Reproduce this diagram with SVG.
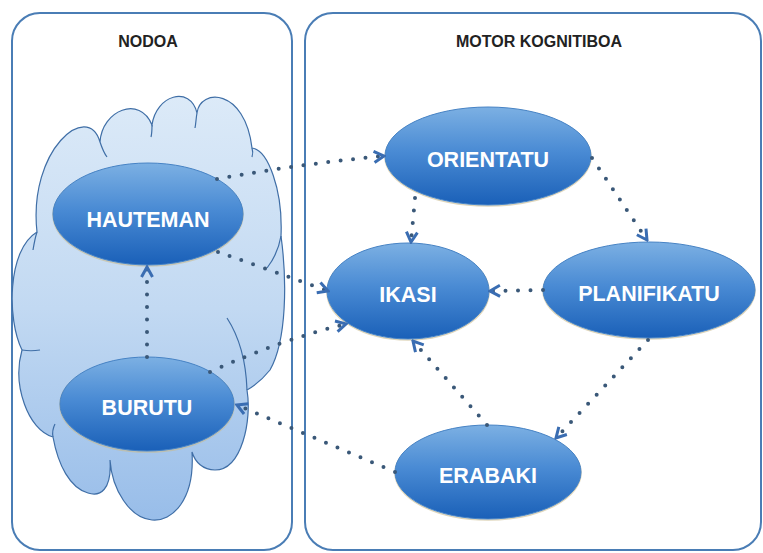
<svg xmlns="http://www.w3.org/2000/svg" width="763" height="553" viewBox="0 0 763 553">
  <defs>
    <linearGradient id="nodeFill" x1="0" y1="0" x2="0" y2="1">
      <stop offset="0" stop-color="#7cb0e3"/>
      <stop offset="0.45" stop-color="#4a8bd4"/>
      <stop offset="1" stop-color="#1a60b8"/>
    </linearGradient>
    <linearGradient id="cloudFill" x1="0" y1="0" x2="0" y2="1">
      <stop offset="0" stop-color="#dceaf8"/>
      <stop offset="0.5" stop-color="#c2d9f2"/>
      <stop offset="1" stop-color="#98bde9"/>
    </linearGradient>
    <marker id="arrow" viewBox="0 0 14 14" refX="12" refY="7" markerWidth="14" markerHeight="14" markerUnits="userSpaceOnUse" orient="auto">
      <path d="M2,1.5 L12,7 L2,12.5" fill="none" stroke="#3a6db2" stroke-width="3" stroke-linejoin="miter"/>
    </marker>
    <style>
      .panel { fill: #ffffff; stroke: #4a7db5; stroke-width: 2; }
      .title { font-family: "Liberation Sans", Arial, sans-serif; font-weight: bold; font-size: 16px; fill: #222222; text-anchor: middle; }
      .node ellipse.body { fill: url(#nodeFill); stroke: #4683c6; stroke-width: 1; }
      .node ellipse.shade { fill: none; stroke: #c9bb8e; stroke-width: 1.5; opacity: 0.6; }
      .node text { font-family: "Liberation Sans", Arial, sans-serif; font-weight: bold; font-size: 21.5px; fill: #ffffff; text-anchor: middle; }
      .cloud { fill: url(#cloudFill); stroke: #3f6ea6; stroke-width: 1.2; }
      .cusp { fill: none; stroke: #3f6ea6; stroke-width: 1.2; }
      .link { fill: none; stroke: #3a5878; stroke-width: 4; stroke-linecap: round; stroke-dasharray: 0 12.5; marker-end: url(#arrow); }
    </style>
  </defs>

  <!-- container panels -->
  <g id="panel-nodoa">
    <rect class="panel" x="12" y="13" width="280" height="537" rx="28" ry="28"/>
    <text class="title" x="148" y="47">NODOA</text>
  </g>
  <g id="panel-motor">
    <rect class="panel" x="305" y="13" width="456" height="537" rx="28" ry="28"/>
    <text class="title" x="539" y="47">MOTOR KOGNITIBOA</text>
  </g>

  <!-- cloud behind the body nodes -->
  <g id="cloud">
    <path class="cloud" d="M37,232
      C28,150 88,100 100,142
      C102,110 140,95 152,125
      C156,95 190,85 197,113
      C200,88 245,88 252,148
      C268,150 283,190 281,236
      C287,280 287,340 270,370
      C262,380 254,386 247,390
      C252,420 242,470 215,470
      C203,470 195,462 192,452
      C195,500 172,522 152,520
      C130,518 112,490 110,460
      C112,490 100,497 88,493
      C70,488 58,465 53,437
      C28,430 12,385 22,350
      C7,320 7,250 37,232 Z"/>
    <path class="cusp" d="M100,142 C102,148 104,153 107,157"/>
    <path class="cusp" d="M152,125 C152,129 152,133 151,137"/>
    <path class="cusp" d="M197,113 C196,118 196,123 195,128"/>
    <path class="cusp" d="M252,148 C253,151 253,154 252,157"/>
    <path class="cusp" d="M281,236 C279,248 274,259 267,268"/>
    <path class="cusp" d="M37,232 C35,238 34,244 33,250"/>
    <path class="cusp" d="M22,350 C28,351 34,351 40,350"/>
    <path class="cusp" d="M227,318 C238,335 246,360 247,390"/>
    <path class="cusp" d="M53,437 C52,432 53,428 55,424"/>
  </g>

  <!-- nodes -->
  <g id="node-hauteman" class="node">
    <ellipse class="shade" cx="148" cy="215" rx="95" ry="51"/>
    <ellipse class="body" cx="148" cy="214" rx="95" ry="51"/>
    <text x="148" y="227">HAUTEMAN</text>
  </g>
  <g id="node-burutu" class="node">
    <ellipse class="shade" cx="147" cy="405" rx="87" ry="47"/>
    <ellipse class="body" cx="147" cy="404" rx="87" ry="47"/>
    <text x="147" y="415">BURUTU</text>
  </g>
  <g id="node-orientatu" class="node">
    <ellipse class="shade" cx="488" cy="157" rx="103" ry="49"/>
    <ellipse class="body" cx="488" cy="156" rx="103" ry="49"/>
    <text x="488" y="167">ORIENTATU</text>
  </g>
  <g id="node-ikasi" class="node">
    <ellipse class="shade" cx="408" cy="292" rx="81" ry="48"/>
    <ellipse class="body" cx="408" cy="291" rx="81" ry="48"/>
    <text x="408" y="302">IKASI</text>
  </g>
  <g id="node-planifikatu" class="node">
    <ellipse class="shade" cx="649" cy="291" rx="106" ry="48"/>
    <ellipse class="body" cx="649" cy="290" rx="106" ry="48"/>
    <text x="649" y="301">PLANIFIKATU</text>
  </g>
  <g id="node-erabaki" class="node">
    <ellipse class="shade" cx="488" cy="473" rx="93" ry="47"/>
    <ellipse class="body" cx="488" cy="472" rx="93" ry="47"/>
    <text x="488" y="483">ERABAKI</text>
  </g>

  <!-- dotted connectors -->
  <g id="connectors">
    <path class="link" d="M217,179 Q300,164 384,156"/>
    <path class="link" d="M218,252 Q270,270 328,291"/>
    <path class="link" d="M210,372 Q280,340 346,324"/>
    <path class="link" d="M147,357 L147,267"/>
    <path class="link" d="M395,472 L237,405"/>
    <path class="link" d="M415,198 L411,242"/>
    <path class="link" d="M592,158 L647,240"/>
    <path class="link" d="M543,290 L490,291"/>
    <path class="link" d="M648,340 L556,438"/>
    <path class="link" d="M487,425 L413,341"/>
  </g>
</svg>
